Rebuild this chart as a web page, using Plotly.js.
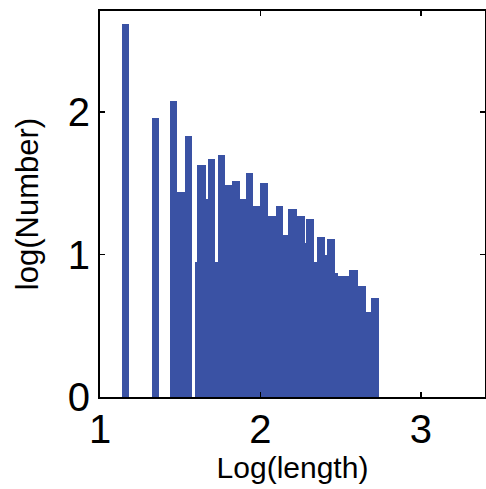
<!DOCTYPE html>
<html>
<head>
<meta charset="utf-8">
<script src="https://cdn.plot.ly/plotly-3.0.1.min.js"></script>
<style>html,body{margin:0;padding:0;background:#fff;}#chart{width:486px;height:489px;}</style>
</head>
<body>
<div id="chart"></div>
<script>
// Histogram bins: left edge, right edge (log length) and height (log number)
const binLeft  = [1.135,1.322,1.436,1.483,1.530,1.592,1.604,1.659,1.675,1.717,1.737,1.779,1.821,1.872,1.908,1.955,1.997,2.049,2.097,2.142,2.173,2.226,2.277,2.287,2.335,2.350,2.402,2.416,2.464,2.481,2.553,2.609,2.661,2.692];
const binRight = [1.182,1.369,1.483,1.530,1.575,1.604,1.659,1.675,1.717,1.737,1.779,1.821,1.872,1.908,1.955,1.997,2.049,2.097,2.142,2.173,2.226,2.277,2.287,2.335,2.350,2.402,2.416,2.464,2.481,2.553,2.609,2.661,2.692,2.740];
const logNumber = [2.62,1.96,2.08,1.44,1.83,0.95,1.63,1.39,1.67,0.95,1.70,1.49,1.52,1.39,1.575,1.34,1.50,1.27,1.34,1.14,1.32,1.27,1.08,1.25,0.95,1.12,1.00,1.11,0.87,0.85,0.89,0.78,0.60,0.695];
const xTickVals = [1,2,3];
const yTickVals = [0,1,2];

const centers = binLeft.map((l,i)=> (l+binRight[i])/2);
const widths = binLeft.map((l,i)=> binRight[i]-l);

const trace = {
  type:'bar',
  x: centers,
  y: logNumber,
  width: widths,
  marker:{color:'#3a52a4', line:{width:0}},
  hoverinfo:'x+y'
};

const font = 'Liberation Sans, Arial, Helvetica, sans-serif';
const layout = {
  width:486, height:489,
  margin:{l:100, r:1, t:11, b:92},
  paper_bgcolor:'#fff', plot_bgcolor:'#fff',
  showlegend:false,
  bargap:0,
  xaxis:{
    range:[1,3.40], tickvals:xTickVals, ticktext:xTickVals.map(String),
    ticks:'inside', ticklen:5, tickwidth:1.5, tickcolor:'#000',
    showline:true, linecolor:'#000', linewidth:2, mirror:'ticks',
    showgrid:false, zeroline:false,
    ticklabelstandoff:-4,
    tickfont:{family:font, size:40, color:'#000'},
    title:{text:'Log(length)', font:{family:font, size:30, color:'#000'}, standoff:2}
  },
  yaxis:{
    range:[0,2.71], tickvals:yTickVals, ticktext:yTickVals.map(String),
    ticks:'inside', ticklen:5, tickwidth:1.5, tickcolor:'#000',
    showline:true, linecolor:'#000', linewidth:2, mirror:'ticks',
    showgrid:false, zeroline:false,
    tickfont:{family:font, size:40, color:'#000'},
    title:{text:'log(Number)', font:{family:font, size:31, color:'#000'}, standoff:20}
  }
};
Plotly.newPlot('chart',[trace],layout,{displayModeBar:false, staticPlot:true});
</script>
</body>
</html>
